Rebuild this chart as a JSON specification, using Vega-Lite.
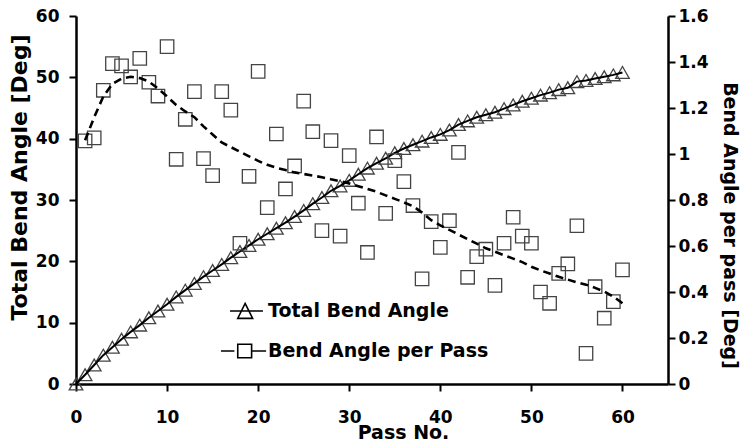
{
  "$schema": "https://vega.github.io/schema/vega-lite/v6.json",
  "width": 592,
  "height": 368,
  "autosize": {"type": "none"},
  "padding": {"left": 76, "top": 16, "right": 72, "bottom": 59},
  "background": "white",
  "config": {
    "view": {"stroke": null},
    "font": "DejaVu Sans",
    "axis": {
      "grid": false,
      "domainColor": "black",
      "domainWidth": 2.5,
      "tickColor": "black",
      "tickWidth": 2,
      "tickSize": 7,
      "labelColor": "black",
      "labelFont": "DejaVu Sans",
      "labelFontSize": 17,
      "labelFontWeight": "bold",
      "titleColor": "black",
      "titleFont": "DejaVu Sans",
      "titleFontWeight": "bold"
    }
  },
  "datasets": {
    "total": [
      {"pass": 0, "total_deg": 0, "series": "Total Bend Angle"},
      {"pass": 1, "total_deg": 1.5, "series": "Total Bend Angle"},
      {"pass": 2, "total_deg": 3.1, "series": "Total Bend Angle"},
      {"pass": 3, "total_deg": 4.7, "series": "Total Bend Angle"},
      {"pass": 4, "total_deg": 6.0, "series": "Total Bend Angle"},
      {"pass": 5, "total_deg": 7.3, "series": "Total Bend Angle"},
      {"pass": 6, "total_deg": 8.5, "series": "Total Bend Angle"},
      {"pass": 7, "total_deg": 9.6, "series": "Total Bend Angle"},
      {"pass": 8, "total_deg": 10.8, "series": "Total Bend Angle"},
      {"pass": 9, "total_deg": 11.9, "series": "Total Bend Angle"},
      {"pass": 10, "total_deg": 13.0, "series": "Total Bend Angle"},
      {"pass": 11, "total_deg": 14.2, "series": "Total Bend Angle"},
      {"pass": 12, "total_deg": 15.3, "series": "Total Bend Angle"},
      {"pass": 13, "total_deg": 16.4, "series": "Total Bend Angle"},
      {"pass": 14, "total_deg": 17.5, "series": "Total Bend Angle"},
      {"pass": 15, "total_deg": 18.5, "series": "Total Bend Angle"},
      {"pass": 16, "total_deg": 19.5, "series": "Total Bend Angle"},
      {"pass": 17, "total_deg": 20.6, "series": "Total Bend Angle"},
      {"pass": 18, "total_deg": 21.6, "series": "Total Bend Angle"},
      {"pass": 19, "total_deg": 22.6, "series": "Total Bend Angle"},
      {"pass": 20, "total_deg": 23.6, "series": "Total Bend Angle"},
      {"pass": 21, "total_deg": 24.5, "series": "Total Bend Angle"},
      {"pass": 22, "total_deg": 25.4, "series": "Total Bend Angle"},
      {"pass": 23, "total_deg": 26.3, "series": "Total Bend Angle"},
      {"pass": 24, "total_deg": 27.3, "series": "Total Bend Angle"},
      {"pass": 25, "total_deg": 28.3, "series": "Total Bend Angle"},
      {"pass": 26, "total_deg": 29.4, "series": "Total Bend Angle"},
      {"pass": 27, "total_deg": 30.4, "series": "Total Bend Angle"},
      {"pass": 28, "total_deg": 31.5, "series": "Total Bend Angle"},
      {"pass": 29, "total_deg": 32.3, "series": "Total Bend Angle"},
      {"pass": 30, "total_deg": 33.2, "series": "Total Bend Angle"},
      {"pass": 31, "total_deg": 34.2, "series": "Total Bend Angle"},
      {"pass": 32, "total_deg": 35.2, "series": "Total Bend Angle"},
      {"pass": 33, "total_deg": 36.0, "series": "Total Bend Angle"},
      {"pass": 34, "total_deg": 36.8, "series": "Total Bend Angle"},
      {"pass": 35, "total_deg": 37.7, "series": "Total Bend Angle"},
      {"pass": 36, "total_deg": 38.4, "series": "Total Bend Angle"},
      {"pass": 37, "total_deg": 39.0, "series": "Total Bend Angle"},
      {"pass": 38, "total_deg": 39.6, "series": "Total Bend Angle"},
      {"pass": 39, "total_deg": 40.2, "series": "Total Bend Angle"},
      {"pass": 40, "total_deg": 40.7, "series": "Total Bend Angle"},
      {"pass": 41, "total_deg": 41.4, "series": "Total Bend Angle"},
      {"pass": 42, "total_deg": 42.3, "series": "Total Bend Angle"},
      {"pass": 43, "total_deg": 42.9, "series": "Total Bend Angle"},
      {"pass": 44, "total_deg": 43.5, "series": "Total Bend Angle"},
      {"pass": 45, "total_deg": 43.9, "series": "Total Bend Angle"},
      {"pass": 46, "total_deg": 44.3, "series": "Total Bend Angle"},
      {"pass": 47, "total_deg": 44.9, "series": "Total Bend Angle"},
      {"pass": 48, "total_deg": 45.5, "series": "Total Bend Angle"},
      {"pass": 49, "total_deg": 46.1, "series": "Total Bend Angle"},
      {"pass": 50, "total_deg": 46.6, "series": "Total Bend Angle"},
      {"pass": 51, "total_deg": 47.1, "series": "Total Bend Angle"},
      {"pass": 52, "total_deg": 47.5, "series": "Total Bend Angle"},
      {"pass": 53, "total_deg": 48.0, "series": "Total Bend Angle"},
      {"pass": 54, "total_deg": 48.3, "series": "Total Bend Angle"},
      {"pass": 55, "total_deg": 49.3, "series": "Total Bend Angle"},
      {"pass": 56, "total_deg": 49.5, "series": "Total Bend Angle"},
      {"pass": 57, "total_deg": 49.8, "series": "Total Bend Angle"},
      {"pass": 58, "total_deg": 50.1, "series": "Total Bend Angle"},
      {"pass": 59, "total_deg": 50.4, "series": "Total Bend Angle"},
      {"pass": 60, "total_deg": 50.8, "series": "Total Bend Angle"}
    ],
    "measured": [
      {"pass": 1, "deg_per_pass": 1.057, "series": "Bend Angle per Pass"},
      {"pass": 2, "deg_per_pass": 1.07, "series": "Bend Angle per Pass"},
      {"pass": 3, "deg_per_pass": 1.277, "series": "Bend Angle per Pass"},
      {"pass": 4, "deg_per_pass": 1.393, "series": "Bend Angle per Pass"},
      {"pass": 5, "deg_per_pass": 1.383, "series": "Bend Angle per Pass"},
      {"pass": 6, "deg_per_pass": 1.335, "series": "Bend Angle per Pass"},
      {"pass": 7, "deg_per_pass": 1.416, "series": "Bend Angle per Pass"},
      {"pass": 8, "deg_per_pass": 1.312, "series": "Bend Angle per Pass"},
      {"pass": 9, "deg_per_pass": 1.252, "series": "Bend Angle per Pass"},
      {"pass": 10, "deg_per_pass": 1.467, "series": "Bend Angle per Pass"},
      {"pass": 11, "deg_per_pass": 0.977, "series": "Bend Angle per Pass"},
      {"pass": 12, "deg_per_pass": 1.151, "series": "Bend Angle per Pass"},
      {"pass": 13, "deg_per_pass": 1.271, "series": "Bend Angle per Pass"},
      {"pass": 14, "deg_per_pass": 0.98, "series": "Bend Angle per Pass"},
      {"pass": 15, "deg_per_pass": 0.906, "series": "Bend Angle per Pass"},
      {"pass": 16, "deg_per_pass": 1.271, "series": "Bend Angle per Pass"},
      {"pass": 17, "deg_per_pass": 1.191, "series": "Bend Angle per Pass"},
      {"pass": 18, "deg_per_pass": 0.612, "series": "Bend Angle per Pass"},
      {"pass": 19, "deg_per_pass": 0.903, "series": "Bend Angle per Pass"},
      {"pass": 20, "deg_per_pass": 1.359, "series": "Bend Angle per Pass"},
      {"pass": 21, "deg_per_pass": 0.767, "series": "Bend Angle per Pass"},
      {"pass": 22, "deg_per_pass": 1.087, "series": "Bend Angle per Pass"},
      {"pass": 23, "deg_per_pass": 0.848, "series": "Bend Angle per Pass"},
      {"pass": 24, "deg_per_pass": 0.948, "series": "Bend Angle per Pass"},
      {"pass": 25, "deg_per_pass": 1.23, "series": "Bend Angle per Pass"},
      {"pass": 26, "deg_per_pass": 1.097, "series": "Bend Angle per Pass"},
      {"pass": 27, "deg_per_pass": 0.667, "series": "Bend Angle per Pass"},
      {"pass": 28, "deg_per_pass": 1.058, "series": "Bend Angle per Pass"},
      {"pass": 29, "deg_per_pass": 0.643, "series": "Bend Angle per Pass"},
      {"pass": 30, "deg_per_pass": 0.993, "series": "Bend Angle per Pass"},
      {"pass": 31, "deg_per_pass": 0.786, "series": "Bend Angle per Pass"},
      {"pass": 32, "deg_per_pass": 0.572, "series": "Bend Angle per Pass"},
      {"pass": 33, "deg_per_pass": 1.074, "series": "Bend Angle per Pass"},
      {"pass": 34, "deg_per_pass": 0.742, "series": "Bend Angle per Pass"},
      {"pass": 35, "deg_per_pass": 0.971, "series": "Bend Angle per Pass"},
      {"pass": 36, "deg_per_pass": 0.88, "series": "Bend Angle per Pass"},
      {"pass": 37, "deg_per_pass": 0.776, "series": "Bend Angle per Pass"},
      {"pass": 38, "deg_per_pass": 0.457, "series": "Bend Angle per Pass"},
      {"pass": 39, "deg_per_pass": 0.706, "series": "Bend Angle per Pass"},
      {"pass": 40, "deg_per_pass": 0.594, "series": "Bend Angle per Pass"},
      {"pass": 41, "deg_per_pass": 0.71, "series": "Bend Angle per Pass"},
      {"pass": 42, "deg_per_pass": 1.007, "series": "Bend Angle per Pass"},
      {"pass": 43, "deg_per_pass": 0.464, "series": "Bend Angle per Pass"},
      {"pass": 44, "deg_per_pass": 0.554, "series": "Bend Angle per Pass"},
      {"pass": 45, "deg_per_pass": 0.586, "series": "Bend Angle per Pass"},
      {"pass": 46, "deg_per_pass": 0.429, "series": "Bend Angle per Pass"},
      {"pass": 47, "deg_per_pass": 0.612, "series": "Bend Angle per Pass"},
      {"pass": 48, "deg_per_pass": 0.725, "series": "Bend Angle per Pass"},
      {"pass": 49, "deg_per_pass": 0.643, "series": "Bend Angle per Pass"},
      {"pass": 50, "deg_per_pass": 0.612, "series": "Bend Angle per Pass"},
      {"pass": 51, "deg_per_pass": 0.4, "series": "Bend Angle per Pass"},
      {"pass": 52, "deg_per_pass": 0.351, "series": "Bend Angle per Pass"},
      {"pass": 53, "deg_per_pass": 0.481, "series": "Bend Angle per Pass"},
      {"pass": 54, "deg_per_pass": 0.522, "series": "Bend Angle per Pass"},
      {"pass": 55, "deg_per_pass": 0.688, "series": "Bend Angle per Pass"},
      {"pass": 56, "deg_per_pass": 0.133, "series": "Bend Angle per Pass"},
      {"pass": 57, "deg_per_pass": 0.423, "series": "Bend Angle per Pass"},
      {"pass": 58, "deg_per_pass": 0.286, "series": "Bend Angle per Pass"},
      {"pass": 59, "deg_per_pass": 0.358, "series": "Bend Angle per Pass"},
      {"pass": 60, "deg_per_pass": 0.496, "series": "Bend Angle per Pass"}
    ],
    "fit": [
      {"pass": 1, "deg_per_pass": 1.06},
      {"pass": 2, "deg_per_pass": 1.16},
      {"pass": 3, "deg_per_pass": 1.25},
      {"pass": 4, "deg_per_pass": 1.305},
      {"pass": 5, "deg_per_pass": 1.328},
      {"pass": 6, "deg_per_pass": 1.336},
      {"pass": 7, "deg_per_pass": 1.33},
      {"pass": 8, "deg_per_pass": 1.315},
      {"pass": 9, "deg_per_pass": 1.285},
      {"pass": 10, "deg_per_pass": 1.25},
      {"pass": 11, "deg_per_pass": 1.213},
      {"pass": 12, "deg_per_pass": 1.185},
      {"pass": 13, "deg_per_pass": 1.16},
      {"pass": 14, "deg_per_pass": 1.12},
      {"pass": 15, "deg_per_pass": 1.085},
      {"pass": 16, "deg_per_pass": 1.05},
      {"pass": 17, "deg_per_pass": 1.03},
      {"pass": 18, "deg_per_pass": 1.01},
      {"pass": 19, "deg_per_pass": 0.99},
      {"pass": 20, "deg_per_pass": 0.97},
      {"pass": 21, "deg_per_pass": 0.953},
      {"pass": 22, "deg_per_pass": 0.94},
      {"pass": 23, "deg_per_pass": 0.93},
      {"pass": 24, "deg_per_pass": 0.92},
      {"pass": 25, "deg_per_pass": 0.913},
      {"pass": 26, "deg_per_pass": 0.906},
      {"pass": 27, "deg_per_pass": 0.899},
      {"pass": 28, "deg_per_pass": 0.89},
      {"pass": 29, "deg_per_pass": 0.882},
      {"pass": 30, "deg_per_pass": 0.872},
      {"pass": 31, "deg_per_pass": 0.86},
      {"pass": 32, "deg_per_pass": 0.848},
      {"pass": 33, "deg_per_pass": 0.836},
      {"pass": 34, "deg_per_pass": 0.82},
      {"pass": 35, "deg_per_pass": 0.805},
      {"pass": 36, "deg_per_pass": 0.79},
      {"pass": 37, "deg_per_pass": 0.773},
      {"pass": 38, "deg_per_pass": 0.745},
      {"pass": 39, "deg_per_pass": 0.712},
      {"pass": 40, "deg_per_pass": 0.69},
      {"pass": 41, "deg_per_pass": 0.67},
      {"pass": 42, "deg_per_pass": 0.65},
      {"pass": 43, "deg_per_pass": 0.63},
      {"pass": 44, "deg_per_pass": 0.61},
      {"pass": 45, "deg_per_pass": 0.59},
      {"pass": 46, "deg_per_pass": 0.575},
      {"pass": 47, "deg_per_pass": 0.56},
      {"pass": 48, "deg_per_pass": 0.545},
      {"pass": 49, "deg_per_pass": 0.53},
      {"pass": 50, "deg_per_pass": 0.51},
      {"pass": 51, "deg_per_pass": 0.494},
      {"pass": 52, "deg_per_pass": 0.48},
      {"pass": 53, "deg_per_pass": 0.466},
      {"pass": 54, "deg_per_pass": 0.454},
      {"pass": 55, "deg_per_pass": 0.442},
      {"pass": 56, "deg_per_pass": 0.432},
      {"pass": 57, "deg_per_pass": 0.418},
      {"pass": 58, "deg_per_pass": 0.402},
      {"pass": 59, "deg_per_pass": 0.38},
      {"pass": 60, "deg_per_pass": 0.351}
    ]
  },
  "layer": [
    {
      "data": {"name": "total"},
      "encoding": {
        "x": {
          "field": "pass",
          "type": "quantitative",
          "scale": {"domain": [0, 65], "nice": false},
          "axis": {
            "values": [0, 10, 20, 30, 40, 50, 60],
            "title": "Pass No.",
            "titleFontSize": 19,
            "titlePadding": -2,
            "titleX": 327,
            "labelPadding": 18,
            "labelFlush": false
          }
        },
        "y": {
          "field": "total_deg",
          "type": "quantitative",
          "scale": {"domain": [0, 60], "nice": false},
          "axis": {
            "orient": "left",
            "values": [0, 10, 20, 30, 40, 50, 60],
            "title": "Total Bend Angle [Deg]",
            "titleFontSize": 22,
            "titleAngle": -90,
            "titleBaseline": "alphabetic",
            "titleAlign": "center",
            "titleX": -50,
            "titleY": 161,
            "labelPadding": 10
          }
        }
      },
      "layer": [
        {
          "mark": {"type": "point", "shape": "triangle-up", "filled": false, "stroke": "#444", "strokeWidth": 1.3, "size": 185, "opacity": 1}
        },
        {
          "mark": {"type": "line", "color": "black", "strokeWidth": 2}
        },
        {
          "description": "Invisible carrier of the key: line-and-marker glyphs per series",
          "mark": {"type": "point", "filled": false, "stroke": "black", "opacity": 0},
          "encoding": {
            "shape": {
              "field": "series",
              "type": "nominal",
              "scale": {
                "domain": ["Total Bend Angle", "Bend Angle per Pass"],
                "range": [
                  "M-0.62,0H0.95M0.1,-0.36L0.46,0.35L-0.25,0.35Z",
                  "M-1.05,0H-0.41M-0.25,-0.32H0.41V0.32H-0.25ZM0.41,0H1.1"
                ]
              },
              "legend": {
                "title": null,
                "orient": "none",
                "legendX": 145,
                "legendY": 273,
                "symbolSize": 1764,
                "symbolStrokeWidth": 1.6,
                "symbolStrokeColor": "black",
                "symbolFillColor": "transparent",
                "symbolOpacity": 1,
                "labelFont": "DejaVu Sans",
                "labelFontSize": 19,
                "labelFontWeight": "bold",
                "labelColor": "black",
                "labelLimit": 400,
                "labelOffset": 3,
                "rowPadding": 7
              }
            }
          }
        }
      ]
    },
    {
      "encoding": {
        "x": {"field": "pass", "type": "quantitative"},
        "y": {
          "field": "deg_per_pass",
          "type": "quantitative",
          "scale": {"domain": [0, 1.6], "nice": false},
          "axis": {
            "orient": "right",
            "values": [0, 0.2, 0.4, 0.6, 0.8, 1, 1.2, 1.4, 1.6],
            "format": "~g",
            "title": "Bend Angle per pass [Deg]",
            "titleFontSize": 19,
            "titleAngle": 90,
            "titleBaseline": "alphabetic",
            "titleAlign": "center",
            "titleX": 55,
            "titleY": 209,
            "labelPadding": 3
          }
        }
      },
      "layer": [
        {
          "data": {"name": "measured"},
          "mark": {"type": "point", "shape": "square", "filled": false, "stroke": "#444", "strokeWidth": 1.3, "size": 180, "opacity": 1}
        },
        {
          "data": {"name": "fit"},
          "mark": {"type": "line", "color": "black", "strokeWidth": 2.6, "strokeDash": [8, 5]}
        }
      ]
    }
  ],
  "resolve": {"scale": {"y": "independent"}}
}
